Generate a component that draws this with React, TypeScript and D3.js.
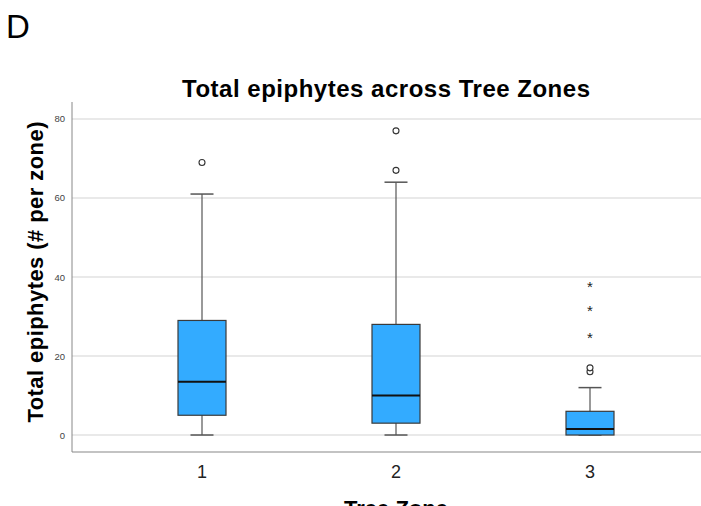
import React, { useRef, useEffect } from "react";
import * as d3 from "d3";

const zones = ["1", "2", "3"];
const lowerWhisker = [0, 0, 0];
const q1 = [5, 3, 0];
const median = [13.5, 10, 1.5];
const q3 = [29, 28, 6];
const upperWhisker = [61, 64, 12];
// circles = outliers, stars = extreme values
const outliers = [[69], [67, 77], [16, 17]];
const extremes = [[], [], [25, 32, 38]];
const yTicks = [0, 20, 40, 60, 80];

export default function App() {
  const ref = useRef<SVGSVGElement>(null);

  useEffect(() => {
    const width = 701;
    const height = 506;
    const svg = d3.select(ref.current);
    svg.selectAll("*").remove();
    svg.attr("width", width).attr("height", height);

    const axisX = 72;
    const y = d3.scaleLinear().domain([-4.3, 84.3]).range([452, 102]);
    const x = d3.scaleBand().domain(zones).range([105, 687]);
    const boxW = 48;
    const capW = 23;
    const font = "Liberation Sans, Arial, sans-serif";

    svg.append("text")
      .attr("x", 6).attr("y", 38)
      .attr("font-family", font).attr("font-size", 33)
      .text("D");

    svg.append("text")
      .attr("x", 386).attr("y", 97)
      .attr("text-anchor", "middle")
      .attr("font-family", font).attr("font-size", 24).attr("font-weight", "bold")
      .attr("textLength", 408)
      .text("Total epiphytes across Tree Zones");

    // grid lines
    svg.append("g")
      .selectAll("line")
      .data(yTicks)
      .join("line")
      .attr("x1", axisX).attr("x2", width)
      .attr("y1", d => y(d)).attr("y2", d => y(d))
      .attr("stroke", "#d4d4d4").attr("stroke-width", 1.2);

    svg.append("g")
      .selectAll("text")
      .data(yTicks)
      .join("text")
      .attr("x", axisX - 7)
      .attr("y", d => y(d) + 3.5)
      .attr("text-anchor", "end")
      .attr("font-family", font).attr("font-size", 9.5).attr("fill", "#444")
      .text(d => d);

    // axes lines
    svg.append("line")
      .attr("x1", axisX).attr("x2", axisX).attr("y1", 102).attr("y2", 452)
      .attr("stroke", "#888").attr("stroke-width", 1);
    svg.append("line")
      .attr("x1", axisX).attr("x2", width).attr("y1", 452).attr("y2", 452)
      .attr("stroke", "#888").attr("stroke-width", 1.2);

    svg.append("text")
      .attr("transform", `translate(43,272) rotate(-90)`)
      .attr("text-anchor", "middle")
      .attr("font-family", font).attr("font-size", 22).attr("font-weight", "bold")
      .attr("textLength", 301)
      .text("Total epiphytes (# per zone)");

    svg.append("g")
      .selectAll("text")
      .data(zones)
      .join("text")
      .attr("x", d => x(d)! + x.bandwidth() / 2)
      .attr("y", 478)
      .attr("text-anchor", "middle")
      .attr("font-family", font).attr("font-size", 18).attr("fill", "#222")
      .text(d => d);

    svg.append("text")
      .attr("x", 396).attr("y", 516)
      .attr("text-anchor", "middle")
      .attr("font-family", font).attr("font-size", 22).attr("font-weight", "bold")
      .text("Tree Zone");

    const rows = zones.map((z, i) => ({
      z, cx: x(z)! + x.bandwidth() / 2,
      lo: lowerWhisker[i], q1: q1[i], med: median[i], q3: q3[i], hi: upperWhisker[i],
      out: outliers[i], ext: extremes[i],
    }));

    const g = svg.append("g").selectAll("g").data(rows).join("g");

    g.append("line")
      .attr("x1", d => d.cx).attr("x2", d => d.cx)
      .attr("y1", d => y(d.hi)).attr("y2", d => y(d.lo))
      .attr("stroke", "#555").attr("stroke-width", 1.2);
    g.append("line")
      .attr("x1", d => d.cx - capW / 2).attr("x2", d => d.cx + capW / 2)
      .attr("y1", d => y(d.hi)).attr("y2", d => y(d.hi))
      .attr("stroke", "#555").attr("stroke-width", 1.5);
    g.append("line")
      .attr("x1", d => d.cx - capW / 2).attr("x2", d => d.cx + capW / 2)
      .attr("y1", d => y(d.lo)).attr("y2", d => y(d.lo))
      .attr("stroke", "#555").attr("stroke-width", 1.5);

    g.append("rect")
      .attr("x", d => d.cx - boxW / 2).attr("width", boxW)
      .attr("y", d => y(d.q3)).attr("height", d => y(d.q1) - y(d.q3))
      .attr("fill", "#33abff").attr("stroke", "#3a3a3a").attr("stroke-width", 1.2);
    g.append("line")
      .attr("x1", d => d.cx - boxW / 2).attr("x2", d => d.cx + boxW / 2)
      .attr("y1", d => y(d.med)).attr("y2", d => y(d.med))
      .attr("stroke", "#111").attr("stroke-width", 2);

    g.selectAll("circle")
      .data(d => d.out.map(v => ({ cx: d.cx, v })))
      .join("circle")
      .attr("cx", d => d.cx).attr("cy", d => y(d.v)).attr("r", 3)
      .attr("fill", "white").attr("stroke", "#333").attr("stroke-width", 1.1);

    g.selectAll("text.ext")
      .data(d => d.ext.map(v => ({ cx: d.cx, v })))
      .join("text")
      .attr("class", "ext")
      .attr("x", d => d.cx).attr("y", d => y(d.v) + 7)
      .attr("text-anchor", "middle")
      .attr("font-family", font).attr("font-size", 15).attr("fill", "#222")
      .text("*");
  }, []);

  return <svg ref={ref} style={{ position: "absolute", left: 0, top: 0 }}></svg>;
}
